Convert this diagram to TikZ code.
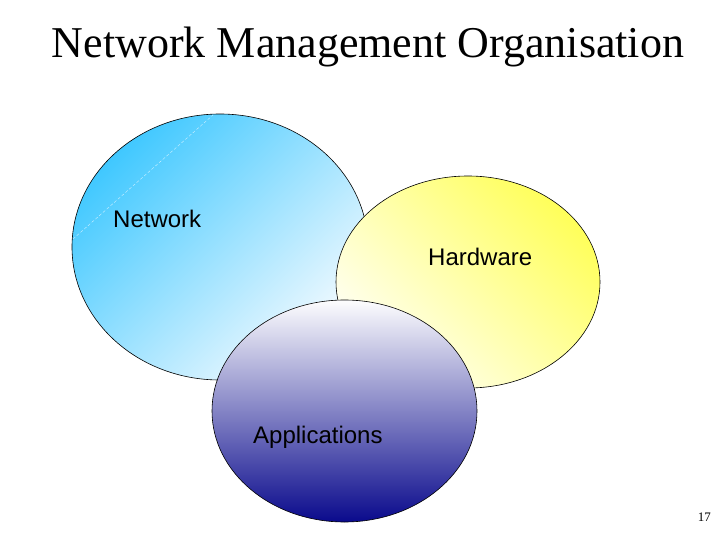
\documentclass[tikz,border=0pt]{standalone}
\usepackage{xcolor}
\usepackage{tikz}
\usetikzlibrary{shapes.geometric}
\usepackage{fontspec}
\setmainfont{Liberation Serif}
\newfontfamily\labelfont{Liberation Sans}
\definecolor{netblue}{HTML}{40C8FF}
\definecolor{netpale}{HTML}{F6FBFF}
\definecolor{hwyellow}{HTML}{FFFF5A}
\definecolor{hwpale}{HTML}{FFFFF6}
\definecolor{appwhite}{HTML}{FDFDFE}
\definecolor{applav}{HTML}{C4C4DA}
\definecolor{appnavy}{HTML}{0A0A8C}

\begin{document}
\begin{tikzpicture}[x=1pt, y=-1pt,
  blob/.style={ellipse, draw=black, line width=0.6pt, inner sep=0pt},
  lbl/.style={anchor=base west, inner sep=0pt,
    font=\labelfont\fontsize{24}{28}\selectfont}]
\useasboundingbox (0,0) rectangle (720,540);
% title
\node[anchor=base, inner sep=0pt] (title) at (368,58)
  {\fontsize{44}{50}\selectfont Network Management Organisation};
% three overlapping areas
\node[blob, minimum width=296pt, minimum height=266pt,
      top color=netblue, bottom color=netpale, shading angle=45] (net) at (220,247) {};
\draw[white, densely dashed, line width=0.4pt, opacity=0.7] (73,239) -- (213,115);
\node[blob, minimum width=264pt, minimum height=212pt,
      top color=hwyellow, bottom color=hwpale, shading angle=-45] (hw) at (468,282) {};
\node[blob, minimum width=265pt, minimum height=222pt,
      top color=appwhite, middle color=applav, bottom color=appnavy] (app) at (344.5,411) {};
% labels
\node[lbl] (netlbl) at (113,228) {Network};
\node[lbl] (hwlbl) at (428,265) {Hardware};
\node[lbl] (applbl) at (253,443) {Applications};
% slide number
\node[anchor=base east, inner sep=0pt] (pgno) at (711,521) {\fontsize{13}{15}\selectfont 17};
\end{tikzpicture}
\end{document}
